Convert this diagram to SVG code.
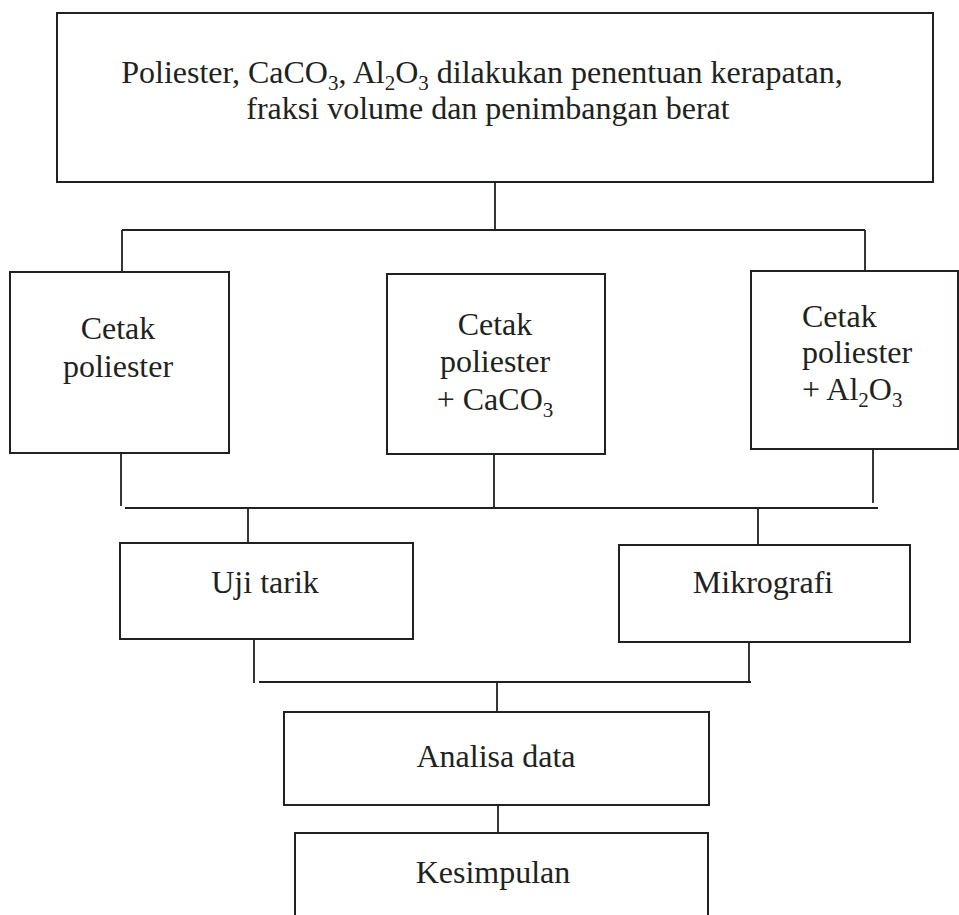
<svg xmlns="http://www.w3.org/2000/svg" width="959" height="915" viewBox="0 0 959 915">
<style>
.box{fill:none;stroke:#1e2320;stroke-width:2}
.ln{fill:none;stroke:#1e2320;stroke-width:1.8}
text{font-family:"Liberation Serif","Times New Roman",serif;font-size:32px;fill:#1e2320}
.c{text-anchor:middle}
.sub{font-size:21px}
</style>
<rect width="959" height="915" fill="#ffffff"/>
<g id="n-top">
<rect class="box" x="57" y="13" width="876" height="169"/>
<text class="c" x="482" y="83">Poliester, CaCO<tspan class="sub" dy="7">3</tspan><tspan dy="-7">, Al</tspan><tspan class="sub" dy="7">2</tspan><tspan dy="-7">O</tspan><tspan class="sub" dy="7">3</tspan><tspan dy="-7"> dilakukan penentuan kerapatan,</tspan></text>
<text class="c" x="488" y="119">fraksi volume dan penimbangan berat</text>
</g>
<g id="n-cetak1">
<rect class="box" x="10" y="272" width="219" height="181"/>
<text class="c" x="118" y="339">Cetak</text>
<text class="c" x="118" y="377">poliester</text>
</g>
<g id="n-cetak2">
<rect class="box" x="387" y="274" width="218" height="180"/>
<text class="c" x="495" y="335">Cetak</text>
<text class="c" x="495" y="372">poliester</text>
<text class="c" x="495" y="410">+ CaCO<tspan class="sub" dy="7">3</tspan></text>
</g>
<g id="n-cetak3">
<rect class="box" x="751" y="271" width="207" height="178"/>
<text x="802" y="327">Cetak</text>
<text x="802" y="363">poliester</text>
<text x="802" y="400">+ Al<tspan class="sub" dy="7">2</tspan><tspan dy="-7">O</tspan><tspan class="sub" dy="7">3</tspan></text>
</g>
<g id="n-uji">
<rect class="box" x="120" y="543" width="293" height="96"/>
<text class="c" x="265" y="593">Uji tarik</text>
</g>
<g id="n-mikro">
<rect class="box" x="619" y="545" width="291" height="97"/>
<text class="c" x="763" y="593">Mikrografi</text>
</g>
<g id="n-analisa">
<rect class="box" x="284" y="712" width="425" height="93"/>
<text class="c" x="496" y="767">Analisa data</text>
</g>
<g id="n-kesimpulan">
<rect class="box" x="295" y="833" width="413" height="100"/>
<text class="c" x="493" y="883">Kesimpulan</text>
</g>
<g id="connectors">
<path class="ln" d="M495 182V230M122 230H865M122 230V272M865 230V271"/>
<path class="ln" d="M121 453V506M494 454V508M873 449V503M125 508H878M248 508V543M758 508V545"/>
<path class="ln" d="M254 639V683M749 642V682M259 682H751M497 682V712"/>
<path class="ln" d="M498 805V833"/>
</g>
</svg>
